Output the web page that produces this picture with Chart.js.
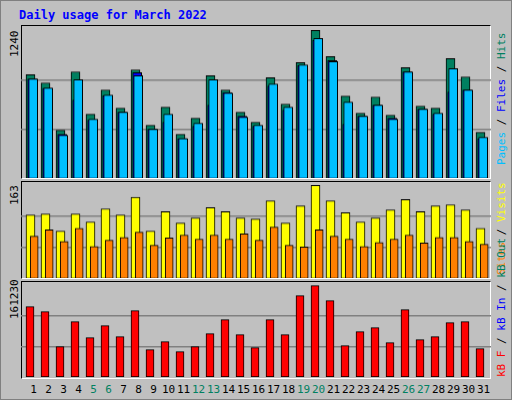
<!DOCTYPE html>
<html><head><meta charset="utf-8">
<script src="https://cdn.jsdelivr.net/npm/chart.js@4"></script>
<style>
body{margin:0;background:#fff;}
#wrap{position:relative;width:510px;height:398px;background:#c0c0c0;border:1px solid #808080;font-family:"DejaVu Sans Mono",monospace;}
.panel{position:absolute;left:20px;width:470px;border-top:1px solid #000;border-left:1px solid #000;border-bottom:1px solid #fff;border-right:1px solid #fff;box-sizing:border-box;}
.cv{position:absolute;left:20px;width:470px;}
.rot{position:absolute;transform-origin:0 0;transform:rotate(-90deg);white-space:nowrap;font-size:11px;}
.day{position:absolute;top:382px;font-size:11px;width:20px;text-align:center;}
</style></head><body>
<div id="wrap">
<div style="position:absolute;left:18px;top:7px;color:#0000ff;font-weight:bold;font-size:12px;">Daily usage for March 2022</div>
<div class="panel" style="top:24px;height:154px"></div>
<div class="panel" style="top:180px;height:98px"></div>
<div class="panel" style="top:280px;height:98px"></div>
<div class="cv" style="top:25px;height:151.5px"><canvas id="c1"></canvas></div>
<div class="cv" style="top:181px;height:95.5px"><canvas id="c2"></canvas></div>
<div class="cv" style="top:281px;height:95px"><canvas id="c3"></canvas></div>
<div class="rot" style="left:7px;top:56px">1240</div>
<div class="rot" style="left:7px;top:204px">163</div>
<div class="rot" style="left:7px;top:318px">161230</div>
<div class="rot" style="left:494px;top:164px"><span style="color:#00bfff">Pages</span> / <span style="color:#0000ff">Files</span> / <span style="color:#008060">Hits</span></div>
<div class="rot" style="left:494px;top:274px"><span style="color:#ff8000">Sites</span> / <span style="color:#ffff00">Visits</span></div>
<div class="rot" style="left:494px;top:376px"><span style="color:#ff0000">kB F</span> / <span style="color:#0000ff">kB In</span> / <span style="color:#008060">kB Out</span></div>
<div id="days"></div>
</div>
<script>
const days = Array.from({length:31},(_,i)=>i+1);
const weekends = [5,6,12,13,19,20,26,27];
const hits  = [868,800,403,893,538,741,589,910,445,597,369,504,860,741,555,471,843,623,969,1240,1020,690,547,682,530,927,606,589,1003,851,386];
const files = [834,755,369,657,488,693,555,885,411,471,335,437,614,719,521,437,775,572,944,1155,986,454,521,614,504,893,580,538,724,741,335];
const pages = [834,758,361,826,496,699,555,860,411,538,335,462,826,716,513,445,792,597,952,1172,978,640,521,614,496,893,580,547,919,741,344];
const visits= [111,113,83,113,99,122,111,142,83,117,97,106,124,117,106,104,136,97,127,163,136,115,99,106,120,138,117,127,129,120,88];
const sites = [74,85,65,88,56,67,72,81,58,71,76,69,76,69,78,67,90,58,55,85,74,69,56,63,69,76,62,72,72,65,60];
const kbytes= [124155,115326,53544,97674,69431,90614,71196,117092,48249,62370,44718,53544,76492,101205,74727,51779,101205,74727,143570,161230,134744,55310,80022,87083,60605,118857,65901,71196,95909,97674,50014];

const dd = document.getElementById('days');
days.forEach(d=>{const s=document.createElement('div');s.className='day';s.style.left=(22.5+15*(d-1))+'px';s.style.color=weekends.includes(d)?'#008060':'#000';s.textContent=d;dd.appendChild(s);});

function xAxis(min){return {type:'linear',display:false,offset:false,bounds:'ticks',min:min,max:min+31.333};}
function ds(vals,color,axis,w,ord){return {data:vals.map((v,i)=>({x:days[i],y:v})),backgroundColor:color,borderColor:'#000',borderWidth:1,borderSkipped:false,barThickness:w,xAxisID:axis,grouped:false,order:ord};}
function make(id,sets,axes,top,max){
  const scales={...axes,y:{display:true,min:0,max:max,border:{display:false},ticks:{display:false,stepSize:top/3},
    afterBuildTicks:a=>{a.ticks=[{value:top/3},{value:2*top/3}];},
    grid:{color:'#808080',lineWidth:1.5,drawTicks:false}}};
  new Chart(document.getElementById(id),{type:'bar',data:{datasets:sets},
    options:{responsive:true,maintainAspectRatio:false,animation:false,layout:{padding:0},
      plugins:{legend:{display:false},tooltip:{enabled:false}},scales:scales}});
}
make('c1',[ds(hits,'#008060','xh',9,3),ds(files,'#0000ff','xf',9,2),ds(pages,'#00bfff','xp',9,1)],
  {xh:xAxis(0.367),xf:xAxis(0.253),xp:xAxis(0.187)},1240,1276);
make('c2',[ds(visits,'#ffff00','xv',9,2),ds(sites,'#ff8000','xs',8,1)],
  {xv:xAxis(0.367),xs:xAxis(0.12)},163,168.8);
make('c3',[ds(kbytes,'#ff0000','xk',8,1)],{xk:xAxis(0.4)},161230,167580);
</script>
</body></html>
